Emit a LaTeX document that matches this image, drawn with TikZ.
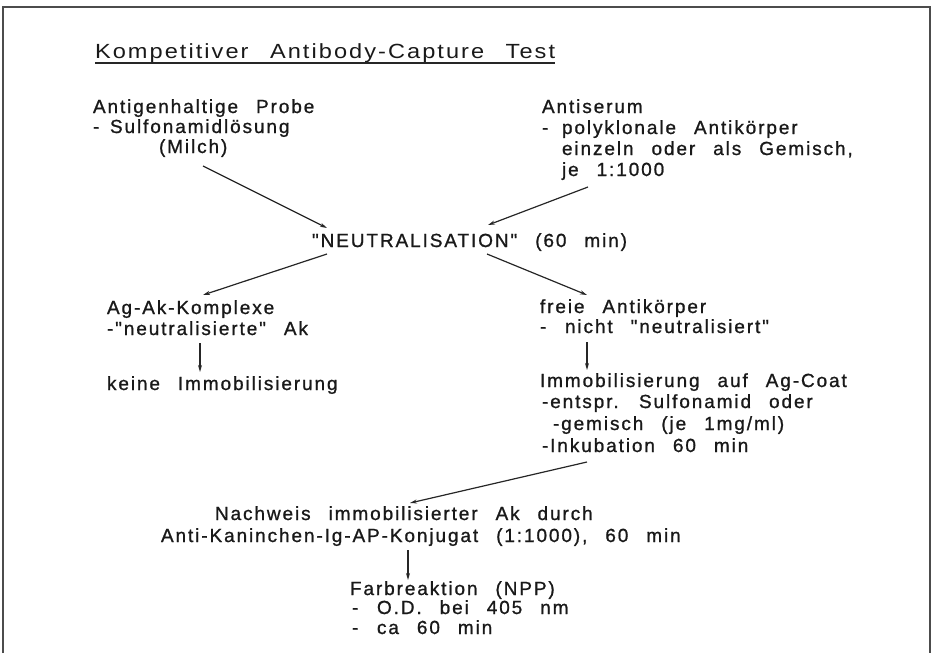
\documentclass[tikz,border=0pt]{standalone}
\usepackage{fontspec}
\setmainfont{Liberation Sans}[Ligatures=TeXOff,LetterSpace=10,WordSpace=2.5,FakeBold=1]
\newfontfamily\titlefont{Liberation Sans}[Ligatures=TeXOff,LetterSpace=10,WordSpace=2.5,FakeStretch=1.15]
\usetikzlibrary{arrows.meta}
\tikzset{
  txt/.style={anchor=base west,inner sep=0pt,outer sep=0pt,font=\fontsize{19}{21}\selectfont,text=black!90},
  ttl/.style={anchor=base west,inner sep=0pt,outer sep=0pt,font=\titlefont\fontsize{20.5}{25}\selectfont,text=black!90},
  arr/.style={line width=1.2pt,black!85,-{Stealth[length=7pt,width=4pt]}},
  frm/.style={line width=1.3pt,black!70}
}
\begin{document}
\begin{tikzpicture}[x=1pt,y=-1pt]
\useasboundingbox (0,0) rectangle (933,653);
\draw[frm] (3,653) -- (3,7) -- (930,7) -- (930,653);
% title
\node[ttl] (title) at (95,58) {Kompetitiver Antibody-Capture Test};
\draw[line width=1.1pt,black!85] ([yshift=-5pt]title.base west) -- ([yshift=-5pt]title.base east);
% left top block
\node[txt] (p1) at (93,113) {Antigenhaltige Probe};
\node[txt] (p2) at (93,133) {\makebox[17pt][l]{-}Sulfonamidlösung};
\node[txt] (p3) at (159,153) {(Milch)};
% right top block
\node[txt] (s1) at (542,113) {Antiserum};
\node[txt] (s2) at (542,134) {\makebox[20pt][l]{-}polyklonale Antikörper};
\node[txt] (s3) at (562,155) {einzeln oder als Gemisch,};
\node[txt] (s4) at (562,176) {je 1:1000};
% neutralisation
\node[txt] (neut) at (312,247) {"NEUTRALISATION" (60 min)};
% left middle
\node[txt] (a1) at (107,314) {Ag-Ak-Komplexe};
\node[txt] (a2) at (107,335) {-"neutralisierte" Ak};
\node[txt] (a3) at (107,390) {keine Immobilisierung};
% right middle
\node[txt] (f1) at (540,313) {freie Antikörper};
\node[txt] (f2) at (540,333) {\makebox[25pt][l]{-}nicht "neutralisiert"};
\node[txt] (f3) at (540,387) {Immobilisierung auf Ag-Coat};
\node[txt] (f4) at (542,408) {-entspr. Sulfonamid oder};
\node[txt] (f5) at (553,430) {-gemisch (je 1mg/ml)};
\node[txt] (f6) at (542,452) {-Inkubation 60 min};
% bottom
\node[txt] (n1) at (215,520) {Nachweis immobilisierter Ak durch};
\node[txt] (n2) at (161,542) {Anti-Kaninchen-Ig-AP-Konjugat (1:1000), 60 min};
\node[txt] (r1) at (350,595) {Farbreaktion (NPP)};
\node[txt] (r2) at (352,614) {\makebox[25pt][l]{-}O.D. bei 405 nm};
\node[txt] (r3) at (352,634) {\makebox[25pt][l]{-}ca 60 min};
% connectors
\draw[arr] ([shift={(44,13)}]p3.base west) -- ([shift={(15,-19)}]neut.base west);
\draw[arr] ([shift={(26,11)}]s4.base west) -- ([shift={(176,-22)}]neut.base west);
\draw[arr] ([shift={(15,7)}]neut.base west) -- ([shift={(96,-19)}]a1.base west);
\draw[arr] ([shift={(175,7)}]neut.base west) -- ([shift={(47,-18)}]f1.base west);
\draw[arr] ([shift={(93,8)}]a2.base west) -- ([shift={(93,-18)}]a3.base west);
\draw[arr] ([shift={(47,9)}]f2.base west) -- ([shift={(47,-17)}]f3.base west);
\draw[arr] ([shift={(45,10)}]f6.base west) -- ([shift={(195,-17)}]n1.base west);
\draw[arr] ([shift={(247,8)}]n2.base west) -- ([shift={(58,-15)}]r1.base west);
\end{tikzpicture}
\end{document}
